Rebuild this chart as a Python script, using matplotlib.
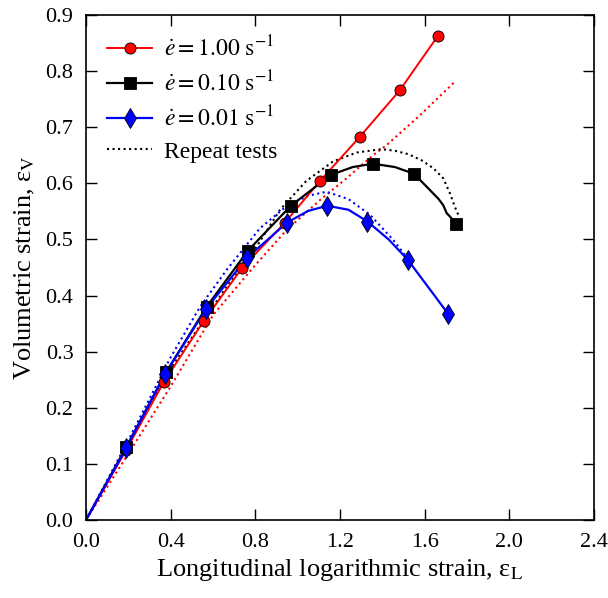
import numpy as np
import matplotlib
matplotlib.use('Agg')
import matplotlib.pyplot as plt

plt.rcParams['font.family'] = ['Liberation Serif', 'DejaVu Serif']
plt.rcParams['mathtext.fontset'] = 'stix'

# strain rate 1.00 /s
red_x = [0.0, 0.19, 0.368, 0.557, 0.737, 0.94, 1.105, 1.294, 1.483, 1.663]
red_y = [0.0, 0.125, 0.246, 0.355, 0.449, 0.53, 0.604, 0.683, 0.766, 0.863]
red_mx = red_x[1:]
red_my = red_y[1:]

# strain rate 0.10 /s
blk_x = [0.0, 0.19, 0.378, 0.57, 0.765, 0.968, 1.157, 1.26, 1.356, 1.46, 1.55,
         1.625, 1.664, 1.688, 1.704, 1.719, 1.75]
blk_y = [0.0, 0.13, 0.263, 0.38, 0.48, 0.56, 0.615, 0.629, 0.635, 0.629, 0.617,
         0.588, 0.573, 0.561, 0.547, 0.541, 0.528]
blk_mx = [0.19, 0.378, 0.57, 0.765, 0.968, 1.157, 1.356, 1.55, 1.75]
blk_my = [0.13, 0.263, 0.38, 0.48, 0.56, 0.615, 0.635, 0.617, 0.528]

# strain rate 0.01 /s
blu_x = [0.0, 0.19, 0.373, 0.567, 0.76, 0.95, 1.05, 1.14, 1.24, 1.33, 1.43, 1.52, 1.71]
blu_y = [0.0, 0.128, 0.26, 0.376, 0.467, 0.53, 0.551, 0.56, 0.553, 0.532, 0.5, 0.464, 0.368]
blu_mx = [0.19, 0.373, 0.567, 0.76, 0.95, 1.14, 1.33, 1.52, 1.71]
blu_my = [0.128, 0.26, 0.376, 0.467, 0.53, 0.56, 0.532, 0.464, 0.368]

# repeat tests
rep_red_x = [0.0, 0.2, 0.4, 0.6, 0.79, 0.948, 1.105, 1.231, 1.356, 1.42, 1.58, 1.748]
rep_red_y = [0.0, 0.118, 0.238, 0.365, 0.45, 0.517, 0.57, 0.609, 0.65, 0.668, 0.722, 0.783]
rep_blk_x = [0.0, 0.2, 0.4, 0.665, 0.806, 0.917, 1.04, 1.167, 1.28, 1.397, 1.46, 1.523,
             1.586, 1.641, 1.688, 1.72, 1.743, 1.759]
rep_blk_y = [0.0, 0.135, 0.27, 0.416, 0.487, 0.553, 0.604, 0.639, 0.655, 0.661, 0.658, 0.652,
             0.641, 0.627, 0.609, 0.582, 0.558, 0.544]
rep_blu_x = [0.0, 0.2, 0.4, 0.539, 0.665, 0.822, 0.95, 1.05, 1.137, 1.24, 1.342, 1.452, 1.52]
rep_blu_y = [0.0, 0.142, 0.29, 0.38, 0.446, 0.52, 0.56, 0.578, 0.585, 0.572, 0.544, 0.499, 0.466]

fig = plt.figure(figsize=(6.08, 5.98), dpi=100)
ax = fig.add_axes([0.1414, 0.1304, 0.8355, 0.8445])

ax.plot(rep_red_x, rep_red_y, ':', c='red', lw=1.5)
ax.plot(rep_blk_x, rep_blk_y, ':', c='black', lw=1.5)
ax.plot(rep_blu_x, rep_blu_y, ':', c='blue', lw=1.5)

ax.plot(red_x, red_y, '-', c='red', lw=1.4)
ax.plot(blk_x, blk_y, '-', c='black', lw=1.6)
ax.plot(blu_x, blu_y, '-', c='blue', lw=1.6)

ax.plot(red_mx, red_my, 'o', ms=8, mfc='red', mec='black', mew=0.6)
ax.plot(blk_mx, blk_my, 's', ms=8, mfc='black', mec='black', mew=0.6)
ax.plot(blu_mx, blu_my, 'd', ms=10, mfc='blue', mec='black', mew=0.6)

# legend handles
h1, = ax.plot([], [], '-o', c='red', lw=1.4, ms=8, mfc='red', mec='black', mew=0.6)
h2, = ax.plot([], [], '-s', c='black', lw=1.6, ms=8, mfc='black', mec='black', mew=0.6)
h3, = ax.plot([], [], '-d', c='blue', lw=1.6, ms=10, mfc='blue', mec='black', mew=0.6)
h4, = ax.plot([], [], ':', c='black', lw=1.5)
ax.legend([h1, h2, h3, h4],
          [r'$\dot{e} = 1.00\ \mathrm{s}^{-1}$', r'$\dot{e} = 0.10\ \mathrm{s}^{-1}$',
           r'$\dot{e} = 0.01\ \mathrm{s}^{-1}$', 'Repeat tests'],
          loc='upper left', frameon=False, fontsize=17, handlelength=1.9,
          labelspacing=0.4, borderaxespad=0.5, handletextpad=0.5)

ax.set_xlim(0, 2.4)
ax.set_ylim(0, 0.9)
ax.set_xticks(np.arange(0, 2.41, 0.4))
ax.set_yticks(np.arange(0, 0.91, 0.1))
ax.xaxis.set_major_formatter(matplotlib.ticker.FormatStrFormatter('%.1f'))
ax.yaxis.set_major_formatter(matplotlib.ticker.FormatStrFormatter('%.1f'))
ax.tick_params(direction='in', length=8, width=1, top=True, right=True, labelsize=16, pad=9)
for s in ax.spines.values():
    s.set_linewidth(1.2)

ax.set_xlabel('Longitudinal logarithmic strain, ε$_{\\mathrm{L}}$', fontsize=19, labelpad=4)
ax.set_ylabel('Volumetric strain, ε$_{\\mathrm{V}}$', fontsize=19, labelpad=6)

fig.savefig('out.png', dpi=100)
